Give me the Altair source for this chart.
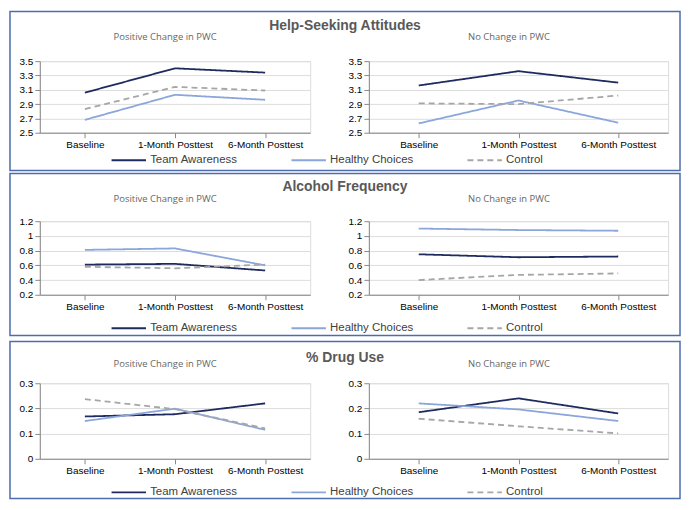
import altair as alt
import pandas as pd

times = ["Baseline", "1-Month Posttest", "6-Month Posttest"]
series = ["Team Awareness", "Healthy Choices", "Control"]
colors = ["#1F2B5E", "#8AA6DA", "#A6A6A6"]
dashes = [[1, 0], [1, 0], [6, 4]]

row_titles = ["Help-Seeking Attitudes", "Alcohol Frequency", "% Drug Use"]
panel_titles = ["Positive Change in PWC", "No Change in PWC"]

# Help-Seeking Attitudes
help_pos_ta = [3.06, 3.40, 3.34]
help_pos_hc = [2.68, 3.03, 2.96]
help_pos_ct = [2.83, 3.14, 3.09]
help_no_ta = [3.16, 3.36, 3.20]
help_no_hc = [2.63, 2.95, 2.64]
help_no_ct = [2.91, 2.90, 3.02]

# Alcohol Frequency
alc_pos_ta = [0.61, 0.62, 0.53]
alc_pos_hc = [0.81, 0.83, 0.60]
alc_pos_ct = [0.58, 0.56, 0.61]
alc_no_ta = [0.75, 0.71, 0.72]
alc_no_hc = [1.10, 1.08, 1.07]
alc_no_ct = [0.40, 0.47, 0.49]

# % Drug Use
drug_pos_ta = [0.168, 0.177, 0.220]
drug_pos_hc = [0.150, 0.199, 0.115]
drug_pos_ct = [0.237, 0.197, 0.121]
drug_no_ta = [0.185, 0.240, 0.180]
drug_no_hc = [0.220, 0.196, 0.150]
drug_no_ct = [0.159, 0.129, 0.101]

y_ticks = [
    [2.5, 2.7, 2.9, 3.1, 3.3, 3.5],
    [0.2, 0.4, 0.6, 0.8, 1.0, 1.2],
    [0, 0.1, 0.2, 0.3],
]

rows_data = [
    ((help_pos_ta, help_pos_hc, help_pos_ct), (help_no_ta, help_no_hc, help_no_ct)),
    ((alc_pos_ta, alc_pos_hc, alc_pos_ct), (alc_no_ta, alc_no_hc, alc_no_ct)),
    ((drug_pos_ta, drug_pos_hc, drug_pos_ct), (drug_no_ta, drug_no_hc, drug_no_ct)),
]

# layout (pixels relative to the left panel's plot area of each row)
LEFT_W, RIGHT_W = 272, 301
heights = [72, 74, 76]
frame_y = [(-50, 110), (-48, 115), (-42, 116)]
title_y = [-35, -34, -25]
sub_y = [-24, -22, -19]
legend_cy = [98.5, 106.5, 108.5]

one = alt.Data(values=[{"k": 1}])
LABEL_FONT = "Open Sans"


def make_df(vals):
    ta, hc, ct = vals
    return pd.DataFrame({
        "time": times * 3,
        "series": [s for s in series for _ in times],
        "value": list(ta) + list(hc) + list(ct),
    })


def lines(vals, ticks, legend):
    return alt.Chart(make_df(vals)).mark_line(strokeWidth=1.8).encode(
        x=alt.X("time:N", sort=times, scale=alt.Scale(type="point", padding=0.5),
                axis=alt.Axis(title=None, labelAngle=0)),
        y=alt.Y("value:Q", scale=alt.Scale(domain=[ticks[0], ticks[-1]], nice=False, zero=False),
                axis=alt.Axis(values=ticks, format="~g", title=None)),
        color=alt.Color("series:N", scale=alt.Scale(domain=series, range=colors), legend=legend),
        strokeDash=alt.StrokeDash("series:N", scale=alt.Scale(domain=series, range=dashes), legend=legend),
    )


def text_layer(txt, x, y, size, weight, font, color="#595959"):
    return alt.Chart(one).mark_text(
        text=txt, font=font, fontSize=size, fontWeight=weight, color=color,
        align="center", baseline="middle",
    ).encode(x=alt.value(x), y=alt.value(y))


panels = []
for r in range(3):
    pos_vals, no_vals = rows_data[r]
    leg = alt.Legend(
        orient="none", legendX=71, legendY=legend_cy[r] - 17.3, direction="horizontal",
        title=None, symbolType="stroke", symbolSize=1200, symbolStrokeWidth=1.8,
        labelFont="Liberation Sans", labelFontSize=11.5, labelColor="#404040",
        labelOffset=3, columnPadding=50,
    )
    fy0, fy1 = frame_y[r]
    frame = alt.Chart(one).mark_rect(fill="transparent", stroke="#4C6CAE", strokeWidth=1.5).encode(
        x=alt.value(-30), x2=alt.value(644), y=alt.value(fy0), y2=alt.value(fy1)
    )
    left = alt.layer(
        frame,
        lines(pos_vals, y_ticks[r], leg),
        text_layer(row_titles[r], 307, title_y[r], 14, "bold", "Liberation Sans"),
        text_layer(panel_titles[0], 126, sub_y[r], 9.5, "normal", LABEL_FONT, "#666666"),
    ).properties(width=LEFT_W, height=heights[r])
    right = alt.layer(
        lines(no_vals, y_ticks[r], None),
        text_layer(panel_titles[1], 141, sub_y[r], 9.5, "normal", LABEL_FONT, "#666666"),
    ).properties(width=RIGHT_W, height=heights[r])
    panels += [left, right]

chart = alt.concat(
    *panels, columns=2, spacing={"row": 89, "column": 59}, bounds="flush"
).resolve_legend(color="independent", strokeDash="independent").properties(
    padding={"left": 0, "top": 0, "right": 0, "bottom": 0}
).configure_view(stroke=None).configure_axisY(
    grid=True, gridColor="#D9D9D9", gridWidth=1, domain=False, ticks=False,
    labelPadding=9, labelFont=LABEL_FONT, labelFontSize=9.5, labelColor="#6E6E6E",
).configure_axisX(
    grid=False, domain=False, ticks=False, labelPadding=8,
    labelFont=LABEL_FONT, labelFontSize=9.5, labelColor="#6E6E6E",
).configure(background="white")

chart.save("out.html", embed_options={"renderer": "svg", "actions": False})
